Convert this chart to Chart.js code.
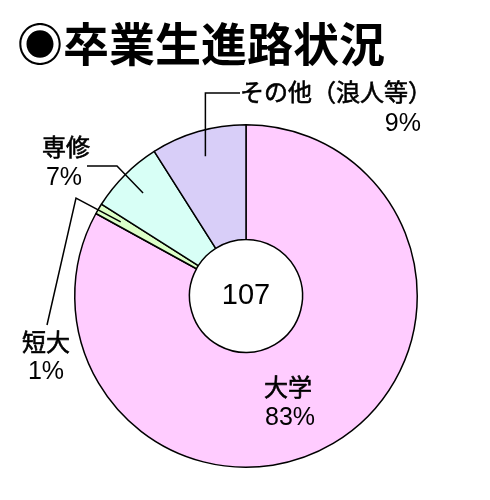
<!DOCTYPE html>
<html lang="ja">
<head>
<meta charset="utf-8">
<title>卒業生進路状況</title>
<script src="https://cdn.jsdelivr.net/npm/chart.js@4.4.0/dist/chart.umd.min.js"></script>
<style>
    html, body { margin: 0; padding: 0; background: #fff; }
    #wrap { position: relative; width: 490px; height: 500px; }
</style>
</head>
<body>
<div id="wrap"><canvas id="courseChart"></canvas></div>
<script>
// ── DATA ─────────────────────────────────────────────────────────
const TITLE = '◉卒業生進路状況';
const categories = ['大学', '短大', '専修', 'その他（浪人等）'];
const percents = [83, 1, 7, 9];
const totalGraduates = 107;

const SLICE_COLORS = ['#FFCCFF', '#DCFFC8', '#D8FFF6', '#D8CEF8'];

const JP_FONT = "'Noto Sans CJK JP', 'Noto Sans', sans-serif";
const NUM_FONT = "'Liberation Sans', Arial, sans-serif";

// label placement (text + leader elbow points), per slice
const LABEL_LAYOUT = [
    { name: { x: 288, y: 387, align: 'center' }, pct: { x: 290, y: 418, align: 'center' }, leader: null },
    { name: { x: 46, y: 342, align: 'center' }, pct: { x: 46, y: 372, align: 'center' }, leader: [[76, 198], [47, 325]] },
    { name: { x: 66, y: 147, align: 'center' }, pct: { x: 64, y: 178, align: 'center' }, leader: [[117, 166], [87, 166]] },
    { name: { x: 240, y: 92, align: 'left' }, pct: { x: 421, y: 124, align: 'right' }, leader: 'up' }
];

// ── LABELS PLUGIN ────────────────────────────────────────────────
const labelsPlugin = {
    id: 'courseLabels',
    afterDraw(chart) {
        const ctx = chart.ctx;
        const arcs = chart.getDatasetMeta(0).data;
        ctx.save();

        // title
        ctx.fillStyle = '#000';
        ctx.strokeStyle = '#000';
        ctx.font = `bold 46px ${JP_FONT}`;
        ctx.textAlign = 'left';
        ctx.textBaseline = 'middle';
        ctx.fillText(TITLE, 17, 44);

        // center total
        const c = arcs[0];
        ctx.font = `29px ${NUM_FONT}`;
        ctx.textAlign = 'center';
        ctx.fillText(String(totalGraduates), c.x, c.y);

        // leaders
        ctx.lineWidth = 1.5;
        arcs.forEach((arc, i) => {
            const lay = LABEL_LAYOUT[i];
            if (!lay.leader) return;
            const mid = (arc.startAngle + arc.endAngle) / 2;
            const r = arc.outerRadius * 0.85;
            const ax = arc.x + Math.cos(mid) * r;
            const ay = arc.y + Math.sin(mid) * r;
            const pts = lay.leader === 'up' ? [[ax, 93], [240, 93]] : lay.leader;
            ctx.beginPath();
            ctx.moveTo(ax, ay);
            pts.forEach(p => ctx.lineTo(p[0], p[1]));
            ctx.stroke();
        });

        // texts (a thin stroke gives the medium weight of the original)
        ctx.lineWidth = 0.6;
        categories.forEach((name, i) => {
            const lay = LABEL_LAYOUT[i];
            ctx.font = `24px ${JP_FONT}`;
            ctx.textAlign = lay.name.align;
            ctx.fillText(name, lay.name.x, lay.name.y);
            ctx.strokeText(name, lay.name.x, lay.name.y);
            ctx.font = `25px ${NUM_FONT}`;
            ctx.textAlign = lay.pct.align;
            ctx.fillText(percents[i] + '%', lay.pct.x, lay.pct.y);
        });

        ctx.restore();
    }
};

// ── CHART ────────────────────────────────────────────────────────
new Chart(document.getElementById('courseChart'), {
    type: 'doughnut',
    data: {
        labels: categories,
        datasets: [{
            data: percents,
            backgroundColor: SLICE_COLORS,
            borderColor: '#000',
            borderWidth: 1.5
        }]
    },
    options: {
        responsive: true,
        maintainAspectRatio: false,
        animation: false,
        cutout: '33%',
        layout: { padding: { left: 74, right: 72, top: 124, bottom: 32 } },
        plugins: {
            legend: { display: false },
            tooltip: { enabled: false }
        }
    },
    plugins: [labelsPlugin]
});
</script>
</body>
</html>
